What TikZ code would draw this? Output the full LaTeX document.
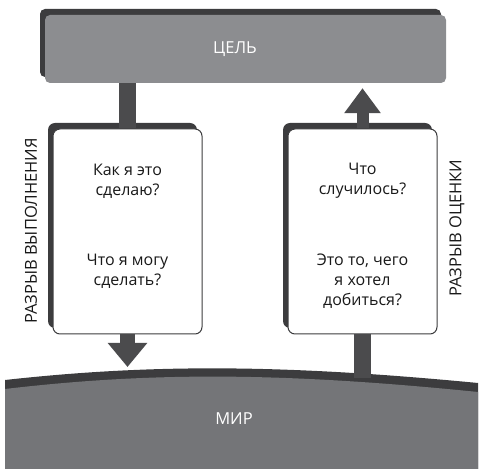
\documentclass[tikz,border=0pt]{standalone}
\usepackage{fontspec}
\setmainfont{Open Sans}
\usetikzlibrary{positioning,arrows.meta,shadows}
\definecolor{boxgray}{HTML}{8C8D90}
\definecolor{worldgray}{HTML}{747578}
\definecolor{darkedge}{HTML}{3C3C3E}
\definecolor{stemgray}{HTML}{4B4B4D}

\begin{document}
\begin{tikzpicture}[x=1pt,y=1pt,
  shade/.style={drop shadow={shadow xshift=-5pt, shadow yshift=6pt, fill=darkedge, opacity=1}},
  goalbox/.style={shade, fill=boxgray, rounded corners=5pt, minimum width=401pt, minimum height=68pt, inner sep=0pt},
  gapbox/.style={shade, draw=darkedge, line width=1pt, fill=white, rounded corners=7pt, minimum width=149pt, minimum height=205pt, inner sep=0pt},
  caption/.style={font=\fontsize{16.5}{20}\selectfont, text=white},
  question/.style={font=\fontsize{16}{20}\selectfont, align=center, text=black!90},
  side/.style={font=\fontsize{16.5}{20}\selectfont, rotate=90, text=black!90},
  stem/.style={draw=stemgray, line width=17pt},
  flow/.style={draw=stemgray, line width=15pt, -{Triangle[width=38pt, length=24pt]}}]
\useasboundingbox (0,0) rectangle (483,469);
% world
\fill[darkedge] (5,89) .. controls (150,105) and (280,105) .. (478,86) -- (478,0) -- (5,0) -- cycle;
\fill[worldgray] (5,80) .. controls (150,97) and (280,97) .. (478,77) -- (478,0) -- (5,0) -- cycle;
\node[caption] (world) at (234,50) {МИР};
\coordinate (landL) at (125,102);
\coordinate (landR) at (362,91);
% goal
\node[goalbox] (goal) at (245.5,420) {};
\node[caption] (goaltext) at (235,420) {ЦЕЛЬ};
% the two gaps
\node[gapbox] (exec) at (127.5,237.5) {};
\node[gapbox] (eval) at (362.5,237.5) {};
\node[question] (howdo) at (127.5,288) {Как я это\\сделаю?};
\node[question] (whatcan) at (127.5,198) {Что я могу\\сделать?};
\node[question] (whathap) at (362.5,288) {Что\\случилось?};
\node[question] (wanted) at (362.5,188) {Это то, чего\\я хотел\\добиться?};
\node[side] (execgap) at (31,238) {РАЗРЫВ ВЫПОЛНЕНИЯ};
\node[side] (evalgap) at (457,241) {РАЗРЫВ ОЦЕНКИ};
% connectors
\draw[stem] (exec.north) -- (exec.north |- goal.south);
\draw[flow] (exec.south) -- (exec.south |- landL);
\draw[stem] (eval.south) -- (eval.south |- landR);
\draw[flow, line width=12pt, -{Triangle[width=35pt, length=25pt]}, shorten >=5pt] (eval.north) -- (eval.north |- goal.south);
\end{tikzpicture}
\end{document}
